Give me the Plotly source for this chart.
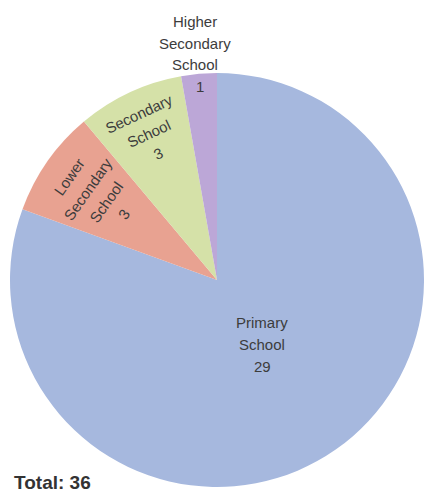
import math
import plotly.graph_objects as go

categories = ["Primary School", "Lower Secondary School", "Secondary School", "Higher Secondary School"]
label_lines = [["Primary", "School"], ["Lower", "Secondary", "School"], ["Secondary", "School"], ["Higher", "Secondary", "School"]]
values = [29, 3, 3, 1]
colors = ["#A6B8DE", "#E8A291", "#D5E1A8", "#BCA7D7"]
total_label = "Total: 36"

W, H = 424, 495
CX, CY, R = 217, 280, 207  # pie center / radius in px
FONT = "Liberation Sans, Arial, sans-serif"
TXT = "#3c3c3c"
FS = 15
LS = 22  # line spacing px

fig = go.Figure(go.Pie(
    labels=categories, values=values, sort=False, direction="clockwise", rotation=0,
    marker=dict(colors=colors, line=dict(width=0)),
    textinfo="none", hoverinfo="none", showlegend=False,
    domain=dict(x=[(CX - R) / W, (CX + R) / W], y=[1 - (CY + R) / H, 1 - (CY - R) / H]),
))

def px2paper(px, py):
    return px / W, 1 - py / H

anns = []

def block(lines, px, py, angle_deg=0.0):
    t = math.radians(angle_deg)
    dx, dy = -math.sin(t), math.cos(t)
    n = len(lines)
    for k, s in enumerate(lines):
        off = (k - (n - 1) / 2) * LS
        x, y = px2paper(px + off * dx, py + off * dy)
        anns.append(dict(x=x, y=y, xref="paper", yref="paper", text=s, showarrow=False,
                         textangle=angle_deg, font=dict(family=FONT, size=FS, color=TXT),
                         xanchor="center", yanchor="middle"))

tot = sum(values)
cum = 0
modes = [("h", 0.38), ("t", 0.71), ("t", 0.78), ("out", 0.94)]
for i, v in enumerate(values):
    mid_cw = (cum + v / 2) / tot * 360.0
    cum += v
    ang = math.radians(90 - mid_cw)
    mode, rf = modes[i]
    px = CX + rf * R * math.cos(ang)
    py = CY - rf * R * math.sin(ang)
    if mode == "h":
        block(label_lines[i] + [str(v)], px, py, 0)
    elif mode == "t":
        block(label_lines[i] + [str(v)], px, py, mid_cw - 360)
    else:
        block([str(v)], px, py, 0)
        block(label_lines[i], px - 5, CY - R - 30, 0)

x, y = px2paper(12, 482)
anns.append(dict(x=x, y=y, xref="paper", yref="paper", text="<b>" + total_label + "</b>", showarrow=False,
                 font=dict(family=FONT, size=19, color="#333333"), xanchor="left", yanchor="middle"))

fig.update_layout(width=W, height=H, margin=dict(l=0, r=0, t=0, b=0),
                  paper_bgcolor="white", plot_bgcolor="white", annotations=anns)
fig.write_html("out.html")
